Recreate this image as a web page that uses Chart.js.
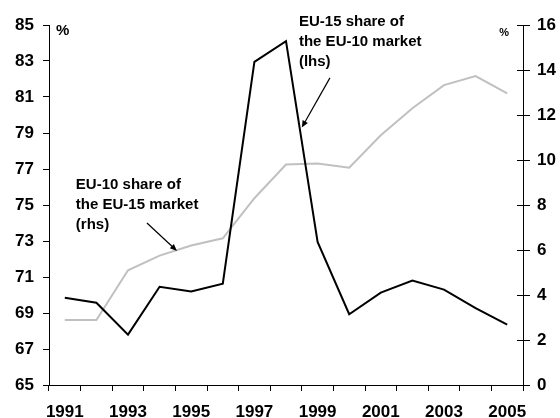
<!DOCTYPE html>
<html>
<head>
<meta charset="utf-8">
<script src="https://cdn.jsdelivr.net/npm/chart.js@4.4.1/dist/chart.umd.min.js"></script>
<style>
  html, body { margin: 0; padding: 0; background: #fff; }
  #wrap { width: 560px; height: 418px; position: relative; }
</style>
</head>
<body>
<div id="wrap"><canvas id="shareChart"></canvas></div>
<script>
// Years on the x axis
var years = ["1991", "1992", "1993", "1994", "1995", "1996", "1997", "1998",
             "1999", "2000", "2001", "2002", "2003", "2004", "2005"];

// EU-15 share of the EU-10 market (lhs, %)
var eu15Share = [69.85, 69.57, 67.8, 70.46, 70.2, 70.63, 82.95, 84.1,
                 72.95, 68.93, 70.13, 70.8, 70.3, 69.27, 68.35];

// EU-10 share of the EU-15 market (rhs, %)
var eu10Share = [2.89, 2.89, 5.1, 5.75, 6.2, 6.52, 8.3, 9.8,
                 9.84, 9.66, 11.1, 12.3, 13.33, 13.73, 12.96];

// Annotation texts, anchored in data space (x = category index, y = axis value)
var notes = [
    {lines: ["EU-15 share of", "the EU-10 market", "(lhs)"], axis: "y", x: 7.41, y: 85.17,
     arrowFrom: [8.39, 82.06], arrowTo: [7.5, 79.3]},
    {lines: ["EU-10 share of", "the EU-15 market", "(rhs)"], axis: "y1", x: 0.35, y: 8.89,
     arrowFrom: [2.6, 7.2], arrowTo: [3.55, 5.96]}
];

var FONT = "'Liberation Sans', Arial, sans-serif";

var annotate = {
    id: "annotate",
    afterDraw: function(chart) {
        var ctx = chart.ctx;
        var sx = chart.scales.x;
        var area = chart.chartArea;
        ctx.save();

        // inner half of the right-hand tick marks
        var s1 = chart.scales.y1;
        ctx.strokeStyle = "#000";
        ctx.lineWidth = 1;
        s1.ticks.forEach(function(t) {
            var py = Math.round(s1.getPixelForValue(t.value)) + 0.5;
            ctx.beginPath();
            ctx.moveTo(s1.left - 6, py);
            ctx.lineTo(s1.left, py);
            ctx.stroke();
        });

        // % unit labels
        ctx.fillStyle = "#000";
        ctx.textBaseline = "middle";
        ctx.textAlign = "left";
        ctx.font = "bold 15px " + FONT;
        ctx.fillText("%", area.left + 7, area.top + 6);
        ctx.font = "bold 11px " + FONT;
        ctx.textAlign = "right";
        ctx.fillText("%", area.right - 14, area.top + 8);

        ctx.font = "bold 15px " + FONT;
        ctx.textAlign = "left";
        notes.forEach(function(n) {
            var sy = chart.scales[n.axis];
            var px = sx.getPixelForValue(n.x);
            var py = sy.getPixelForValue(n.y);
            n.lines.forEach(function(line, i) {
                ctx.fillText(line, px, py + i * 20);
            });
            var x0 = sx.getPixelForValue(n.arrowFrom[0]), y0 = sy.getPixelForValue(n.arrowFrom[1]);
            var x1 = sx.getPixelForValue(n.arrowTo[0]), y1 = sy.getPixelForValue(n.arrowTo[1]);
            var ang = Math.atan2(y1 - y0, x1 - x0);
            ctx.beginPath();
            ctx.moveTo(x0, y0);
            ctx.lineTo(x1 - 5 * Math.cos(ang), y1 - 5 * Math.sin(ang));
            ctx.lineWidth = 1.2;
            ctx.stroke();
            ctx.beginPath();
            ctx.moveTo(x1, y1);
            ctx.lineTo(x1 - 7 * Math.cos(ang) + 3 * Math.sin(ang), y1 - 7 * Math.sin(ang) - 3 * Math.cos(ang));
            ctx.lineTo(x1 - 7 * Math.cos(ang) - 3 * Math.sin(ang), y1 - 7 * Math.sin(ang) + 3 * Math.cos(ang));
            ctx.closePath();
            ctx.fill();
        });
        ctx.restore();
    }
};

var tickFont = {family: FONT, size: 17, weight: "bold"};

var shareChart = new Chart(document.getElementById("shareChart"), {
    type: "line",
    data: {
        labels: years,
        datasets: [{
            data: eu15Share,
            yAxisID: "y",
            borderColor: "#000000",
            borderWidth: 2,
            pointRadius: 0,
            tension: 0,
            fill: false
        }, {
            data: eu10Share,
            yAxisID: "y1",
            borderColor: "#c0c0c0",
            borderWidth: 2,
            pointRadius: 0,
            tension: 0,
            fill: false
        }]
    },
    options: {
        responsive: true,
        maintainAspectRatio: false,
        animation: false,
        layout: {padding: {top: 25, left: 0, right: 0, bottom: 0}},
        plugins: {
            legend: {display: false},
            tooltip: {enabled: false}
        },
        scales: {
            x: {
                type: "category",
                offset: true,
                grid: {offset: true, drawOnChartArea: false, drawTicks: true, tickLength: 6, color: "#000"},
                border: {color: "#000", width: 1},
                ticks: {
                    autoSkip: false,
                    maxRotation: 0,
                    padding: 11,
                    color: "#000",
                    font: tickFont,
                    callback: function(v, i) { return i % 2 === 0 ? years[i] : ""; }
                },
                afterFit: function(s) { s.height = 33; }
            },
            y: {
                position: "left",
                min: 65,
                max: 85,
                grid: {drawOnChartArea: false, drawTicks: true, tickLength: 6, color: "#000"},
                border: {color: "#000", width: 1},
                ticks: {stepSize: 2, padding: 9, color: "#000", font: tickFont},
                afterFit: function(s) { s.width = 49; }
            },
            y1: {
                position: "right",
                min: 0,
                max: 16,
                grid: {drawOnChartArea: false, drawTicks: true, tickLength: 7, color: "#000"},
                border: {color: "#000", width: 1},
                ticks: {stepSize: 2, padding: 7, color: "#000", font: tickFont},
                afterFit: function(s) { s.width = 37; }
            }
        }
    },
    plugins: [annotate]
});
</script>
</body>
</html>
